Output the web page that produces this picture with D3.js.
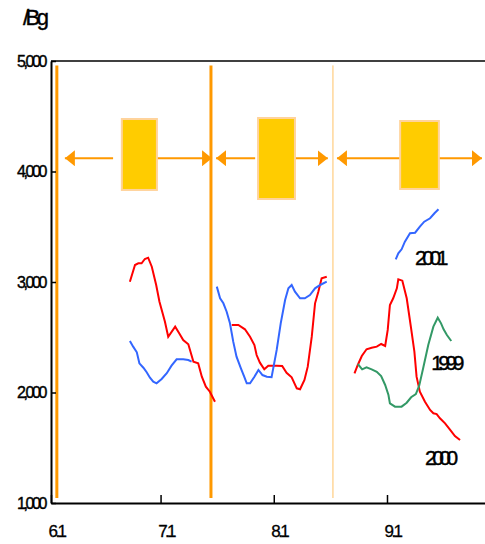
<!DOCTYPE html>
<html>
<head>
<meta charset="utf-8">
<script src="https://cdn.jsdelivr.net/npm/d3@7"></script>
<style>
  body { margin: 0; background: #fff; }
  svg { display: block; font-family: 'Liberation Sans', Arial, sans-serif; }
</style>
</head>
<body>
<div id="chart"></div>
<script>
// days counted from June 1, values per unit
const yTicks = [1000, 2000, 3000, 4000, 5000];
const xTickDays = [0, 30, 61, 92];
const xTickLabels = ['6.1', '7.1', '8.1', '9.1'];

// period boundaries (day)
const markerDays = [1.6, 43.8, 77.2];

// boxes: [startDay, endDay, topValue, bottomValue]
const boxes = [
    [19.4, 29.0, 4475, 3833],
    [56.7, 66.8, 4484, 3751],
    [95.6, 106.2, 4457, 3842]
];
// arrows: [tailDay, tipDay]
const arrows = [
    [17.0, 3.8], [28.2, 44.1],
    [55.9, 45.2], [66.8, 75.8],
    [95.6, 78.3], [106.2, 118.0]
];
const arrowValue = 4120;

// 2000 (red)
const s2000a = [[21.6,3003],[23.0,3154],[23.9,3169],[24.8,3169],[25.7,3208],[26.6,3220],[27.6,3138],[28.8,2973],[29.7,2822],[31.2,2641],[32.1,2505],[34.0,2596],[35.1,2536],[36.2,2475],[37.6,2436],[39.0,2279],[40.3,2264],[41.3,2143],[42.4,2053],[43.5,2007],[44.9,1917]];
const s2000b = [[49.5,2611],[51.3,2611],[53.1,2572],[54.5,2505],[55.7,2430],[56.3,2339],[57.2,2270],[58.4,2210],[59.5,2243],[61.8,2243],[63.3,2240],[64.5,2179],[65.9,2138],[67.3,2038],[68.2,2029],[69.4,2113],[70.3,2234],[71.4,2505],[72.3,2807],[73.2,2912],[74.1,3034],[75.5,3048]];
const s2000c = [[83.1,2174],[84.0,2249],[85.1,2330],[86.4,2391],[87.8,2405],[89.2,2415],[90.4,2439],[91.5,2421],[92.2,2566],[92.8,2792],[93.7,2853],[94.7,2943],[95.1,3024],[96.2,3012],[97.4,2853],[98.6,2581],[99.5,2369],[100.1,2143],[101.0,2007],[102.4,1917],[103.8,1842],[104.7,1812],[105.6,1805],[106.5,1767],[107.9,1721],[109.3,1661],[110.6,1606],[112.0,1570]];

// 2001 (blue)
const s2001a = [[21.6,2466],[22.5,2415],[23.5,2364],[24.2,2264],[25.3,2224],[26.2,2183],[27.1,2134],[28.0,2098],[28.9,2083],[30.3,2122],[31.7,2174],[33.0,2243],[34.4,2300],[36.2,2300],[37.6,2294],[38.5,2279]];
const s2001b = [[45.4,2958],[46.3,2853],[47.2,2807],[48.1,2731],[49.0,2626],[49.9,2460],[50.8,2324],[52.0,2219],[52.9,2143],[53.6,2083],[54.5,2083],[55.7,2143],[56.8,2204],[57.9,2158],[59.1,2143],[60.4,2138],[61.8,2385],[62.9,2626],[64.1,2837],[65.0,2943],[65.9,2973],[66.8,2912],[68.2,2853],[69.5,2853],[70.9,2882],[72.3,2943],[73.7,2973],[75.5,3003]];
const s2001c = [[94.4,3205],[95.1,3260],[96.0,3296],[96.9,3365],[98.3,3441],[99.7,3446],[101.0,3501],[102.2,3546],[103.8,3577],[105.0,3622],[106.1,3658]];

// 1999 (green)
const s1999a = [[84.0,2258],[85.2,2210],[86.4,2228],[87.8,2210],[89.2,2188],[90.4,2149],[91.5,2068],[92.4,1977],[92.8,1902],[94.2,1872],[96.0,1872],[97.4,1908],[98.6,1957],[99.9,1986],[100.8,2059],[101.9,2219],[103.3,2430],[104.7,2596],[105.9,2677],[106.8,2626],[107.5,2572],[108.4,2520],[109.6,2466]];

const seriesNames = ['2000', '2001', '1999'];
const seriesColors = ['#ff0000', '#3366ff', '#339966'];
const seriesSegments = [[s2000a, s2000b, s2000c], [s2001a, s2001b, s2001c], [s1999a]];
// year label anchor: [day, value]
const seriesLabelPos = [[102.4, 1344], [99.7, 3154], [104.1, 2204]];

const width = 485, height = 544;

const svg = d3.select('#chart').append('svg')
        .attr('width', width)
        .attr('height', height);

const x = d3.scaleLinear().domain([0, 119]).range([51, 485.6]);
const y = d3.scaleLinear().domain([1000, 5000]).range([503, 61]);

svg.append('defs').append('marker')
        .attr('id', 'head')
        .attr('viewBox', '0 0 10 16')
        .attr('refX', 10)
        .attr('refY', 8)
        .attr('markerWidth', 10)
        .attr('markerHeight', 16)
        .attr('markerUnits', 'userSpaceOnUse')
        .attr('orient', 'auto')
        .append('path')
        .attr('d', 'M0,0 L10,8 L0,16 Z')
        .attr('fill', '#ff9900');

//top frame line
svg.append('line')
        .attr('x1', x(0)).attr('x2', width)
        .attr('y1', y(5000)).attr('y2', y(5000))
        .attr('stroke', '#000').attr('stroke-width', 1.5);

// period marker lines
svg.selectAll('line.marker')
        .data(markerDays)
        .enter()
        .append('line')
        .attr('class', 'marker')
        .attr('x1', d => x(d)).attr('x2', d => x(d))
        .attr('y1', y(4960)).attr('y2', y(1045))
        .attr('stroke', (d, i) => i == 2 ? '#ffc266' : '#ff9900')
        .attr('stroke-width', (d, i) => i == 2 ? 1 : 3);

// arrows
svg.selectAll('line.arrow')
        .data(arrows)
        .enter()
        .append('line')
        .attr('class', 'arrow')
        .attr('x1', d => x(d[0])).attr('x2', d => x(d[1]))
        .attr('y1', y(arrowValue)).attr('y2', y(arrowValue))
        .attr('stroke', '#ff9900')
        .attr('stroke-width', 2)
        .attr('marker-end', 'url(#head)');

// boxes
svg.selectAll('rect.box')
        .data(boxes)
        .enter()
        .append('rect')
        .attr('class', 'box')
        .attr('x', d => x(d[0]))
        .attr('y', d => y(d[2]))
        .attr('width', d => x(d[1]) - x(d[0]))
        .attr('height', d => y(d[3]) - y(d[2]))
        .attr('fill', '#ffcc00')
        .attr('stroke', '#ffd39b')
        .attr('stroke-width', 2);

// data lines
const line = d3.line().x(d => x(d[0])).y(d => y(d[1]));
seriesSegments.forEach(function (segs, i) {
    svg.selectAll('path.s' + i)
            .data(segs)
            .enter()
            .append('path')
            .attr('class', 's' + i)
            .attr('d', line)
            .attr('fill', 'none')
            .attr('stroke', seriesColors[i])
            .attr('stroke-width', 2);
});

// year labels
svg.selectAll('text.year')
        .data(seriesNames)
        .enter()
        .append('text')
        .attr('class', 'year')
        .attr('x', (d, i) => x(seriesLabelPos[i][0]))
        .attr('y', (d, i) => y(seriesLabelPos[i][1]))
        .style('font-size', '21px')
        .style('letter-spacing', '-4.5px')
        .style('fill', '#000')
        .style('stroke', '#000')
        .style('stroke-width', 0.4)
        .text(d => d);

// axes
const yAxis = d3.axisLeft(y)
        .tickValues(yTicks)
        .tickSize(-5)
        .tickSizeOuter(0)
        .tickFormat(d3.format(','));
const gy = svg.append('g')
        .attr('transform', 'translate(' + x(0) + ',0)')
        .call(yAxis);
gy.select('.domain').attr('stroke-width', 2);
gy.selectAll('.tick line').attr('stroke-width', 1.5);
gy.selectAll('.tick text')
        .attr('x', -6)
        .style('font-size', '16px')
        .style('letter-spacing', '-2.4px')
        .style('font-family', "'Liberation Sans', Arial, sans-serif")
        .style('fill', '#000')
        .style('stroke', '#000')
        .style('stroke-width', 0.4);

const xAxis = d3.axisBottom(x)
        .tickValues(xTickDays)
        .tickSize(-8)
        .tickSizeOuter(0)
        .tickFormat((d, i) => xTickLabels[i]);
const gx = svg.append('g')
        .attr('transform', 'translate(0,' + y(1000) + ')')
        .call(xAxis);
gx.select('.domain').attr('stroke-width', 2);
gx.selectAll('.tick line').attr('stroke-width', 1.5);
gx.selectAll('.tick text')
        .attr('y', 22)
        .attr('dx', 5)
        .style('font-size', '17px')
        .style('letter-spacing', '-2.6px')
        .style('font-family', "'Liberation Sans', Arial, sans-serif")
        .style('fill', '#000')
        .style('stroke', '#000')
        .style('stroke-width', 0.3);

// unit title
svg.append('text')
        .attr('x', 23)
        .attr('y', 25)
        .style('font-size', '22px')
        .style('letter-spacing', '-3.5px')
        .style('stroke', '#000')
        .style('stroke-width', 0.4)
        .text('/Bg');
</script>
</body>
</html>
